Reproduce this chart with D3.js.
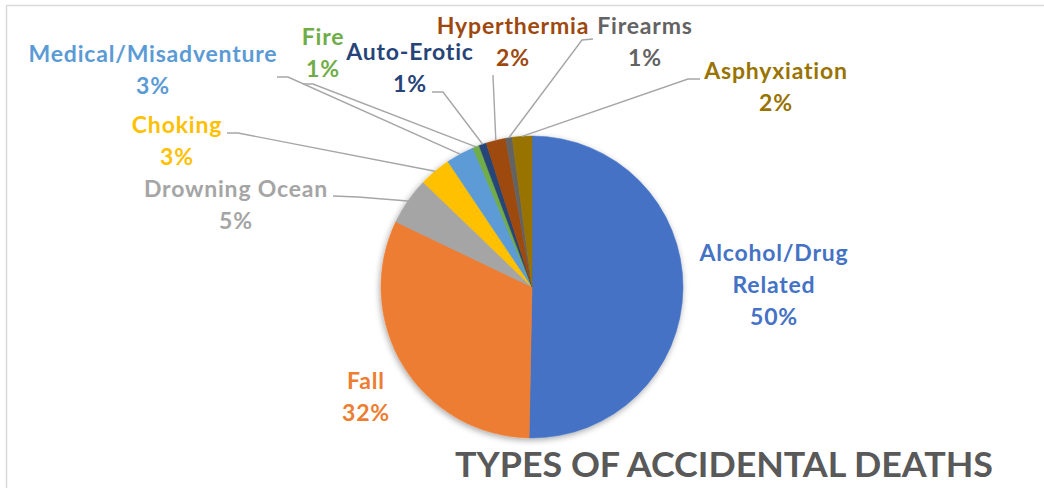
<!DOCTYPE html>
<html>
<head>
<meta charset="utf-8">
<script src="https://cdn.jsdelivr.net/npm/d3@7"></script>
<style>
  html, body { margin: 0; padding: 0; background: #fff; }
  svg { display: block; }
  text { font-family: Lato, 'Open Sans', sans-serif; font-weight: bold; }
</style>
</head>
<body>
<svg width="1044" height="488"></svg>
<script>
'use strict'

// data (percent of all accidental deaths)
let categories = ['Alcohol/Drug Related', 'Fall', 'Drowning Ocean', 'Choking',
    'Medical/Misadventure', 'Fire', 'Auto-Erotic', 'Hyperthermia', 'Firearms', 'Asphyxiation'];
let values = [50.3, 31.8, 5.1, 3.4, 3.0, 0.7, 0.8, 2.1, 0.7, 2.1];
let colors = ['#4472C4', '#ED7D31', '#A5A5A5', '#FFC000', '#5B9BD5',
    '#70AD47', '#264478', '#9E480E', '#636363', '#997300'];

// label placement (text anchor x, first baseline y, leader start + elbow)
let labelLayout = [
    { x: 774, y: 261, wrap: true },
    { x: 366, y: 389 },
    { x: 236, y: 197, lead: [[333, 196], [358, 197]] },
    { x: 177, y: 133, lead: [[227, 133], [238, 133]] },
    { x: 153, y: 62, lead: [[277, 77], [288, 77]] },
    { x: 323, y: 45, lead: [[303, 84], [313, 84]] },
    { x: 410, y: 60, lead: [[432, 92], [443, 92]] },
    { x: 513, y: 34, lead: [[493, 75], [493, 76]] },
    { x: 645, y: 34, lead: [[593, 39], [582, 40]] },
    { x: 776, y: 79, lead: [[700, 79], [688, 79]] }
];

let svg = d3.select('svg'),
    cx = 532,
    cy = 287,
    radius = 151,
    lineGap = 32;

// chart frame
svg.append('path')
    .attr('d', 'M6.5,488 V5.5 H1044')
    .attr('fill', 'none')
    .attr('stroke', '#d9d9d9')
    .attr('stroke-width', 1.5);

let defs = svg.append('defs');
let shadow = defs.append('filter')
    .attr('id', 'shadow')
    .attr('x', '-20%').attr('y', '-20%')
    .attr('width', '140%').attr('height', '140%');
shadow.append('feDropShadow')
    .attr('dx', -1).attr('dy', 2)
    .attr('stdDeviation', 3)
    .attr('flood-color', '#000')
    .attr('flood-opacity', 0.35);

let rows = categories.map(function(c, i) {
    return { name: c, value: values[i], color: colors[i], layout: labelLayout[i] };
});

let pie = d3.pie()
    .sort(null)
    .value(function(d) { return d.value; });

let arcs = pie(rows);

let arc = d3.arc()
    .innerRadius(0)
    .outerRadius(radius);

let edge = d3.arc()
    .innerRadius(radius)
    .outerRadius(radius);

let g = svg.append('g')
    .attr('transform', 'translate(' + cx + ',' + cy + ')');

g.append('g')
    .attr('filter', 'url(#shadow)')
    .selectAll('path')
    .data(arcs)
    .enter().append('path')
    .attr('d', arc)
    .attr('fill', function(d) { return d.data.color; })
    .attr('stroke', function(d) { return d.data.color; })
    .attr('stroke-width', 0.5);

// leader lines
let line = d3.line();
svg.append('g')
    .selectAll('path')
    .data(arcs.filter(function(d) { return d.data.layout.lead; }))
    .enter().append('path')
    .attr('d', function(d) {
        let p = edge.centroid(d);
        let pts = d.data.layout.lead.concat([[cx + p[0], cy + p[1]]]);
        return line(pts);
    })
    .attr('fill', 'none')
    .attr('stroke', '#a6a6a6')
    .attr('stroke-width', 1.4);

// labels
let total = d3.sum(values);
let labels = svg.append('g')
    .selectAll('text')
    .data(rows)
    .enter().append('text')
    .attr('x', function(d) { return d.layout.x; })
    .attr('y', function(d) { return d.layout.y; })
    .attr('text-anchor', 'middle')
    .attr('font-size', 23)
    .attr('letter-spacing', 0.8)
    .attr('fill', function(d) { return d.color; });

labels.each(function(d) {
    let lines = d.layout.wrap ? d.name.split(' ') : [d.name];
    lines.push(Math.round(d.value / total * 100) + '%');
    let t = d3.select(this);
    lines.forEach(function(s, i) {
        t.append('tspan')
            .attr('x', d.layout.x)
            .attr('dy', i === 0 ? 0 : lineGap)
            .text(s);
    });
});

// title
svg.append('text')
    .attr('x', 724)
    .attr('y', 477)
    .attr('text-anchor', 'middle')
    .attr('font-size', 35)
    .attr('fill', '#595959')
    .attr('textLength', 538)
    .attr('lengthAdjust', 'spacingAndGlyphs')
    .text('TYPES OF ACCIDENTAL DEATHS');
</script>
</body>
</html>
